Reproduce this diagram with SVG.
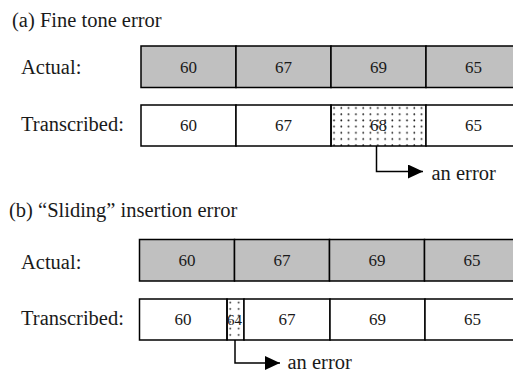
<svg xmlns="http://www.w3.org/2000/svg" width="513" height="371" viewBox="0 0 513 371">
<defs>
<pattern id="dots" patternUnits="userSpaceOnUse" x="331" y="105" width="7.3" height="6.2">
<circle cx="3" cy="3" r="0.9" fill="#222"/>
</pattern>
<pattern id="dots2" patternUnits="userSpaceOnUse" x="227" y="299" width="8.5" height="6.5">
<circle cx="3.2" cy="3.5" r="0.9" fill="#222"/>
</pattern>
<marker id="arr" markerWidth="15" markerHeight="14" refX="15" refY="7" orient="auto" markerUnits="userSpaceOnUse">
<path d="M0,0 L15,7 L0,14 Z" fill="#000"/>
</marker>
</defs>
<style>
text{font-family:"Liberation Serif","Times New Roman",serif;fill:#1a1a1a}
.lbl{font-size:20.5px}
.num{font-size:17px;text-anchor:middle}
.act{fill:#c0c0c0;stroke:#000;stroke-width:1.5}
.tr{fill:#fff;stroke:#000;stroke-width:1.5}
.err{fill:url(#dots);stroke:#000;stroke-width:1.5}
.con{fill:none;stroke:#000;stroke-width:1.5}
</style>
<rect width="513" height="371" fill="#fff"/>
<text class="lbl" x="12" y="26.5">(a) Fine tone error</text>
<text class="lbl" x="21" y="74">Actual:</text>
<text class="lbl" x="21" y="131">Transcribed:</text>
<g id="a-actual">
<rect class="act" x="141" y="46" width="95" height="41.5"/><text class="num" x="188.5" y="72.5">60</text>
<rect class="act" x="236" y="46" width="95" height="41.5"/><text class="num" x="283.5" y="72.5">67</text>
<rect class="act" x="331" y="46" width="95" height="41.5"/><text class="num" x="378.5" y="72.5">69</text>
<rect class="act" x="426" y="46" width="95" height="41.5"/><text class="num" x="473.5" y="72.5">65</text>
</g>
<g id="a-trans">
<rect class="tr" x="141" y="105" width="95" height="41"/><text class="num" x="188.5" y="131">60</text>
<rect class="tr" x="236" y="105" width="95" height="41"/><text class="num" x="283.5" y="131">67</text>
<rect class="err" x="331" y="105" width="95" height="41"/><text class="num" x="378.5" y="131">68</text>
<rect class="tr" x="426" y="105" width="95" height="41"/><text class="num" x="473.5" y="131">65</text>
</g>
<text class="lbl" x="9" y="217">(b) “Sliding” insertion error</text>
<text class="lbl" x="21" y="268.5">Actual:</text>
<text class="lbl" x="21" y="324.5">Transcribed:</text>
<g id="b-actual">
<rect class="act" x="139.5" y="239.5" width="95" height="41.5"/><text class="num" x="187" y="266">60</text>
<rect class="act" x="234.5" y="239.5" width="95" height="41.5"/><text class="num" x="282" y="266">67</text>
<rect class="act" x="329.5" y="239.5" width="95" height="41.5"/><text class="num" x="377" y="266">69</text>
<rect class="act" x="424.5" y="239.5" width="95" height="41.5"/><text class="num" x="472" y="266">65</text>
</g>
<g id="b-trans">
<rect class="tr" x="139.5" y="299" width="87.5" height="41"/><text class="num" x="183" y="325">60</text>
<rect class="err" style="fill:url(#dots2)" x="227" y="299" width="17" height="41"/><text class="num" x="234.5" y="325" style="font-size:15px">64</text>
<rect class="tr" x="244" y="299" width="86" height="41"/><text class="num" x="287" y="325">67</text>
<rect class="tr" x="330" y="299" width="95" height="41"/><text class="num" x="377.5" y="325">69</text>
<rect class="tr" x="425" y="299" width="95" height="41"/><text class="num" x="472.5" y="325">65</text>
</g>
<g id="connectors">
<path class="con" d="M376.5,146 V171.5 H423" marker-end="url(#arr)"/>
<path class="con" d="M235,340 V363 H280" marker-end="url(#arr)"/>
</g>
<text class="lbl" x="431.5" y="180">an error</text>
<text class="lbl" x="287.5" y="368.5">an error</text>
</svg>
